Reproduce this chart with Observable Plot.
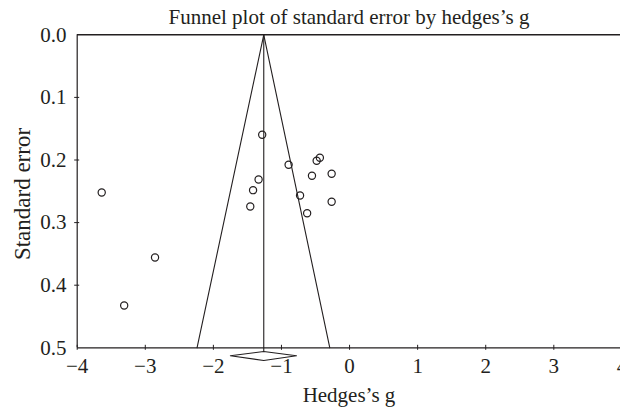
<!DOCTYPE html>
<html>
<head>
<meta charset="utf-8">
<script src="https://cdn.jsdelivr.net/npm/d3@7"></script>
<script src="https://cdn.jsdelivr.net/npm/@observablehq/plot@0.6"></script>
<style>
  html, body { margin: 0; padding: 0; background: #fff; }
  #chart svg { display: block; }
</style>
</head>
<body>
<div id="chart"></div>
<script>
// ---- data ----
const titleText = "Funnel plot of standard error by hedges’s g";
const xLabel = "Hedges’s g";
const yLabel = "Standard error";

const studyG  = [-1.283, -3.640, -0.895, -0.483, -0.436, -0.552, -0.263, -1.336, -1.417, -0.727, -0.263, -1.458, -0.623, -2.857, -3.310];
const studySE = [0.1597, 0.2519, 0.2077, 0.2013, 0.1965, 0.2252, 0.2220, 0.2312, 0.2482, 0.2567, 0.2668, 0.2743, 0.2850, 0.3558, 0.4324];

const pooledG = -1.26;
const funnelLeftG  = [-1.26, -2.24];
const funnelRightG = [-1.26, -0.29];
const funnelSE     = [0, 0.5];

const diamondG  = [-1.75, -1.26, -0.78, -1.26, -1.75];
const diamondSE = [0.5128, 0.5059, 0.5128, 0.5203, 0.5128];

const xTicks = [-4, -3, -2, -1, 0, 1, 2, 3, 4];
const yTicks = [0, 0.1, 0.2, 0.3, 0.4, 0.5];

// ---- build tables ----
const studies = studyG.map((g, i) => ({g, se: studySE[i]}));
const funnelLeft = funnelSE.map((se, i) => ({g: funnelLeftG[i], se}));
const funnelRight = funnelSE.map((se, i) => ({g: funnelRightG[i], se}));
const diamond = diamondG.map((g, i) => ({g, se: diamondSE[i]}));

const ink = "#231f20";
const font = "'Liberation Serif', 'DejaVu Serif', serif";

const chart = Plot.plot({
  width: 620,
  height: 411,
  marginTop: 34,
  marginBottom: 64,
  marginLeft: 77,
  marginRight: 0,
  style: {fontFamily: font, fontSize: "21px", color: ink, background: "#fff"},
  x: {domain: [-4, 4], range: [76.7, 621.4]},
  y: {domain: [0, 0.5], range: [34.3, 347.3]},
  marks: [
    // frame lines
    Plot.ruleY([0], {stroke: ink, strokeWidth: 1.4}),
    Plot.ruleY([0.5], {stroke: ink, strokeWidth: 1.2}),
    Plot.ruleX([-4], {y1: 0, y2: 0.5, stroke: ink, strokeWidth: 1.2}),
    // tick marks crossing the axes
    Plot.ruleX(xTicks, {x: d => d, y1: 0.5, y2: 0.5, insetTop: -2.5, insetBottom: -2.5, stroke: ink}),
    Plot.ruleY(yTicks.slice(1, 5), {y: d => d, x1: -4, x2: -4, insetLeft: -2.5, insetRight: -2.5, stroke: ink}),
    // tick labels
    Plot.axisX(xTicks, {anchor: "bottom", tickSize: 0, tickPadding: 11, label: null, fontSize: 21, fill: ink}),
    Plot.axisY(yTicks, {anchor: "left", tickSize: 0, tickPadding: 11, tickFormat: d3.format(".1f"), label: null, fontSize: 21, fill: ink}),
    // funnel
    Plot.line(funnelLeft, {x: "g", y: "se", stroke: ink, strokeWidth: 1.1}),
    Plot.line(funnelRight, {x: "g", y: "se", stroke: ink, strokeWidth: 1.1}),
    Plot.ruleX([pooledG], {y1: 0, y2: diamondSE[1], stroke: ink, strokeWidth: 1.1}),
    // pooled diamond
    Plot.line(diamond, {x: "g", y: "se", stroke: ink, strokeWidth: 1.1, fill: "none"}),
    // studies
    Plot.dot(studies, {x: "g", y: "se", r: 3.6, stroke: ink, strokeWidth: 1.2, fill: "none"}),
    // titles
    Plot.text([titleText], {frameAnchor: "top", lineAnchor: "middle", dy: -17, fontSize: 21, fill: ink}),
    Plot.text([xLabel], {frameAnchor: "bottom", lineAnchor: "middle", dy: 48, fontSize: 21, fill: ink}),
    Plot.text([yLabel], {frameAnchor: "left", textAnchor: "middle", lineAnchor: "middle", rotate: -90, dx: -55, dy: 3, fontSize: 23, fill: ink})
  ]
});
document.getElementById("chart").appendChild(chart);
</script>
</body>
</html>
